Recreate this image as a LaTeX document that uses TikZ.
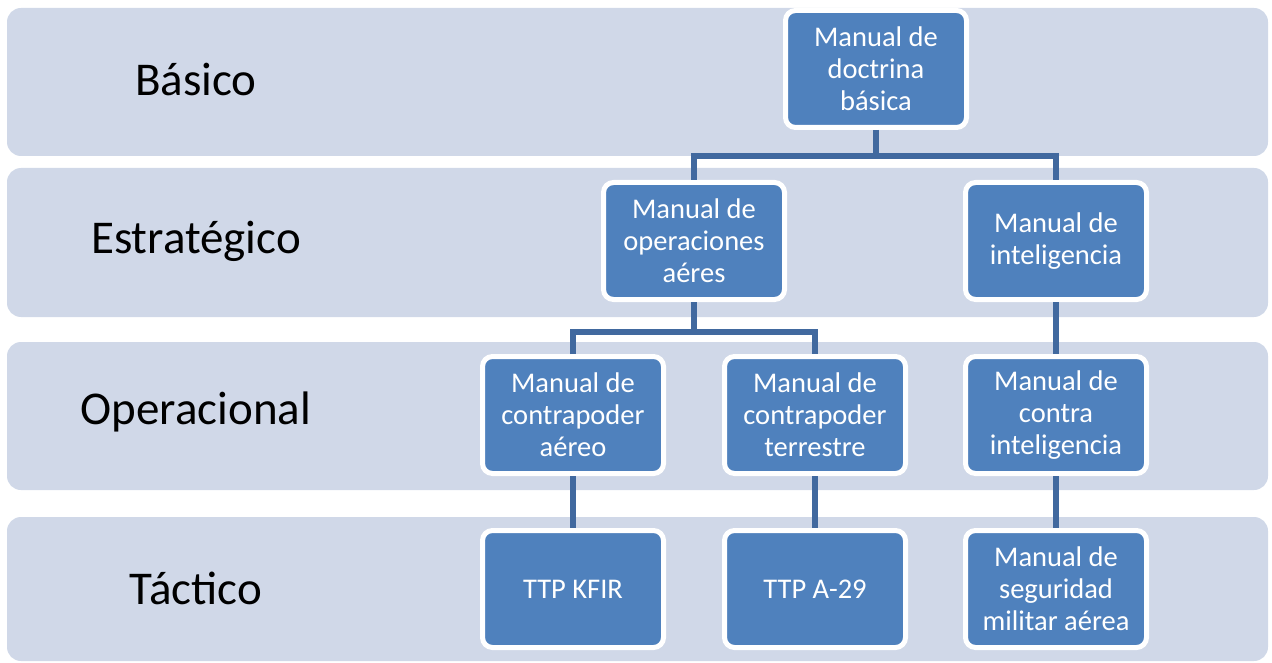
\documentclass[tikz,border=0pt]{standalone}
\usepackage{fontspec}
\setmainfont{Carlito}
\definecolor{bandfill}{HTML}{D0D8E8}
\definecolor{boxfill}{HTML}{4F81BD}
\definecolor{linkcol}{HTML}{41699F}
\begin{document}
\begin{tikzpicture}[x=1pt,y=-1pt,
  band/.style={fill=bandfill,draw=none,rounded corners=14pt},
  levellabel/.style={font=\fontsize{47}{51}\selectfont,text=black,anchor=center},
  docbox/.style={fill=boxfill,draw=white,line width=5pt,rounded corners=10pt,
    minimum width=181pt,minimum height=117pt,inner sep=0pt,align=center,
    text=white,font=\fontsize{28.5}{32}\selectfont},
  link/.style={draw=linkcol,line width=6pt}]
\useasboundingbox (0,0) rectangle (1272,663);
% level bands
\fill[band] (7,8) rectangle (1268,156);
\fill[band] (7,168) rectangle (1268,317);
\fill[band] (7,342) rectangle (1268,490);
\fill[band] (7,517) rectangle (1268,661);
% level labels
\node[levellabel] (lb1) at (196,80) {Básico};
\node[levellabel] (lb2) at (196,241) {Estratégico};
\node[levellabel] (lb3) at (196,412) {Operacional};
\node[levellabel] (lb4) at (196,588) {Táctico};
% junction points of the branching connectors
\coordinate (j1) at (876,156);
\coordinate (j2) at (694,332);
% document boxes
\node[docbox] (b1) at (876,69) {Manual de\\doctrina\\básica};
\node[docbox] (b2) at (694,241) {Manual de\\operaciones\\aéres};
\node[docbox] (b3) at (1056,241) {Manual de\\inteligencia};
\node[docbox] (b4) at (573,415) {Manual de\\contrapoder\\aéreo};
\node[docbox] (b5) at (815,415) {Manual de\\contrapoder\\terrestre};
\node[docbox] (b6) at (1056,415) {Manual de\\contra\\inteligencia};
\node[docbox] (b7) at (573,589) {TTP KFIR};
\node[docbox] (b8) at (815,589) {TTP A-29};
\node[docbox] (b9) at (1056,589) {Manual de\\seguridad\\militar aérea};
% hierarchy connectors
\draw[link] (b1.south) -- (j1);
\draw[link] (b2.north) |- (j1) -| (b3.north);
\draw[link] (b2.south) -- (j2);
\draw[link] (b4.north) |- (j2) -| (b5.north);
\draw[link] (b3.south) -- (b6.north);
\draw[link] (b4.south) -- (b7.north);
\draw[link] (b5.south) -- (b8.north);
\draw[link] (b6.south) -- (b9.north);
\end{tikzpicture}
\end{document}
